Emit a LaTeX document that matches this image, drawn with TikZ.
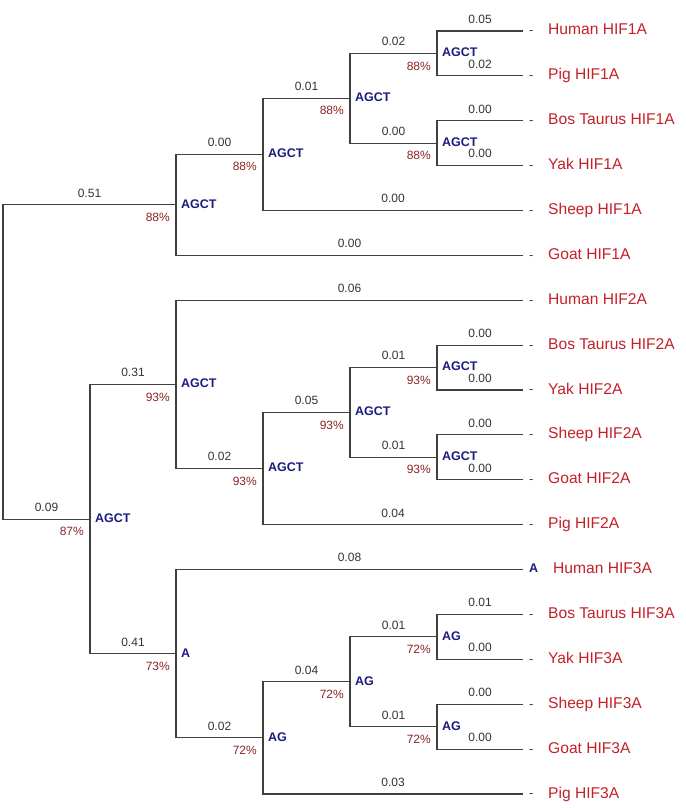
\documentclass[tikz,border=0pt]{standalone}
\usepackage{fontspec}
\setmainfont{Liberation Sans}
\definecolor{branch}{RGB}{64,64,64}
\definecolor{leafred}{RGB}{196,32,40}
\definecolor{bootred}{RGB}{140,36,36}
\definecolor{stateblue}{RGB}{28,28,128}
\begin{document}
\begin{tikzpicture}[x=1pt,y=-1pt,
  edge/.style={draw=branch,line width=1.1pt},
  blen/.style={pos=0.75,anchor=south,inner sep=0pt,yshift=7pt,text=black!80,font=\fontsize{12}{14}\selectfont},
  boot/.style={anchor=north east,inner sep=0pt,xshift=-6pt,yshift=-8pt,text=bootred,font=\fontsize{12}{14}\selectfont},
  state/.style={anchor=west,inner sep=0pt,xshift=5pt,yshift=1pt,text=stateblue,font=\fontsize{12.5}{14}\selectfont\bfseries},
  leafname/.style={anchor=base west,inner sep=0pt,text=leafred,font=\fontsize{15.6}{18}\selectfont},
  leafdash/.style={anchor=west,inner sep=0pt,text=black!75,font=\fontsize{13}{15}\selectfont}
]
\useasboundingbox (0,0) rectangle (685,808);
% leaves
\foreach \i/\y in {0/31.0,1/75.9,2/120.8,3/165.6,4/210.5,5/255.4,6/300.3,7/345.2,8/390.0,9/434.9,10/479.8,11/524.7,12/569.6,13/614.4,14/659.3,15/704.2,16/749.1,17/794.0}
  \coordinate (L\i) at (523,\y);
% internal nodes
\coordinate (A1) at (437,53.5);
\coordinate (A2) at (437,143.2);
\coordinate (A3) at (350,98.3);
\coordinate (A4) at (263,154.4);
\coordinate (A5) at (176,204.9);
\coordinate (B1) at (437,367.6);
\coordinate (B2) at (437,457.4);
\coordinate (B3) at (350,412.5);
\coordinate (B4) at (263,468.6);
\coordinate (B5) at (176,384.5);
\coordinate (C1) at (437,636.9);
\coordinate (C2) at (437,726.7);
\coordinate (C3) at (350,681.8);
\coordinate (C4) at (263,737.9);
\coordinate (C5) at (176,653.7);
\coordinate (D) at (90,519.1);
\coordinate (R) at (3,362.0);
% edges: parent/child/length
\foreach \p/\c/\l in {R/A5/0.51,R/D/0.09,
  A5/A4/0.00,A5/L5/0.00,A4/A3/0.01,A4/L4/0.00,A3/A1/0.02,A3/A2/0.00,
  A1/L0/0.05,A1/L1/0.02,A2/L2/0.00,A2/L3/0.00,
  D/B5/0.31,D/C5/0.41,
  B5/L6/0.06,B5/B4/0.02,B4/B3/0.05,B4/L11/0.04,B3/B1/0.01,B3/B2/0.01,
  B1/L7/0.00,B1/L8/0.00,B2/L9/0.00,B2/L10/0.00,
  C5/L12/0.08,C5/C4/0.02,C4/C3/0.04,C4/L17/0.03,C3/C1/0.01,C3/C2/0.01,
  C1/L13/0.01,C1/L14/0.00,C2/L15/0.00,C2/L16/0.00}
  \draw[edge] (\p) |- (\c) node[blen] {\l};
% internal node labels
\foreach \n/\s/\b in {A1/AGCT/88\%,A2/AGCT/88\%,A3/AGCT/88\%,A4/AGCT/88\%,A5/AGCT/88\%,
  B1/AGCT/93\%,B2/AGCT/93\%,B3/AGCT/93\%,B4/AGCT/93\%,B5/AGCT/93\%,
  C1/AG/72\%,C2/AG/72\%,C3/AG/72\%,C4/AG/72\%,C5/A/73\%,D/AGCT/87\%}{
  \node[state] (s\n) at (\n) {\s};
  \node[boot] (b\n) at (\n) {\b};
}
% leaf labels
\foreach \i/\name in {0/Human HIF1A,1/Pig HIF1A,2/Bos Taurus HIF1A,3/Yak HIF1A,4/Sheep HIF1A,5/Goat HIF1A,
  6/Human HIF2A,7/Bos Taurus HIF2A,8/Yak HIF2A,9/Sheep HIF2A,10/Goat HIF2A,11/Pig HIF2A,
  13/Bos Taurus HIF3A,14/Yak HIF3A,15/Sheep HIF3A,16/Goat HIF3A,17/Pig HIF3A}{
  \node[leafdash] (d\i) at ([xshift=6pt,yshift=-2pt]L\i) {-};
  \node[leafname] (n\i) at ([xshift=25pt,yshift=-4pt]L\i) {\name};
}
\node[state,xshift=1pt] (d12) at ([xshift=0pt]L12) {A};
\node[leafname] (n12) at ([xshift=30pt,yshift=-4pt]L12) {Human HIF3A};
\end{tikzpicture}
\end{document}
